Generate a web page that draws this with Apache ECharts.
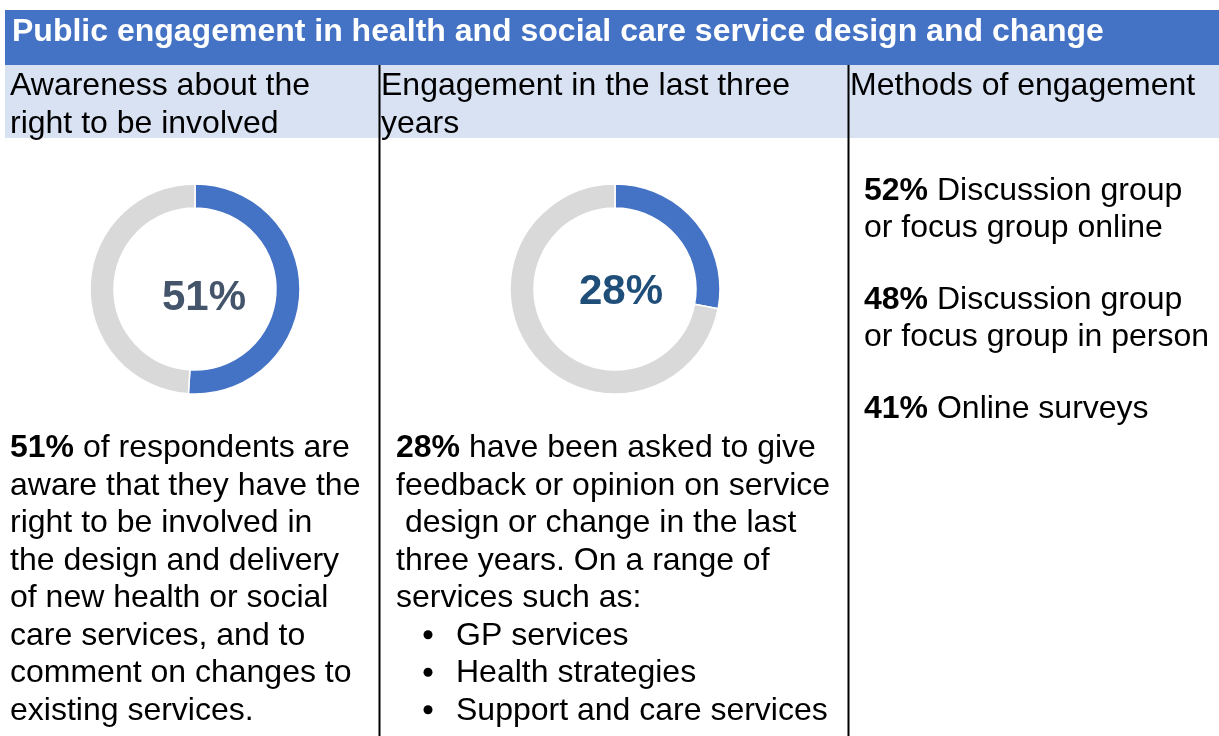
<!DOCTYPE html>
<html>
<head>
<meta charset="utf-8">
<script src="https://cdn.jsdelivr.net/npm/echarts@6/dist/echarts.min.js"></script>
<style>
html,body{margin:0;padding:0;background:#fff;}
#main{width:1219px;height:736px;}
</style>
</head>
<body>
<div id="main"></div>
<script>
// ---- Data ----
const titleText = 'Public engagement in health and social care service design and change';
const columnHeaders = ['Awareness about the\nright to be involved', 'Engagement in the last three\nyears', 'Methods of engagement'];
const awarenessValue = 51;
const engagementValue = 28;
const awarenessBody = ['of respondents are', 'aware that they have the', 'right to be involved in', 'the design and delivery', 'of new health or social', 'care services, and to', 'comment on changes to', 'existing services.'];
const engagementBody = ['have been asked to give', 'feedback or opinion on service', ' design or change in the last', 'three years. On a range of', 'services such as:'];
const serviceExamples = ['GP services', 'Health strategies', 'Support and care services'];
const methodValues = [52, 48, 41];
const methodLabels = [['Discussion group', 'or focus group online'], ['Discussion group', 'or focus group in person'], ['Online surveys']];

// ---- Styles ----
const FONT = '"Liberation Sans", Arial, sans-serif';
const LH = 37.5;
const BLUE = '#4472C4';
const GREY = '#D9D9D9';
const BODY_TOP = 429.5;

const chart = echarts.init(document.getElementById('main'), null, {renderer: 'canvas'});

function bodyText(x, y, lines, boldValue) {
  let txt = lines.map((l, i) => i === 0 && boldValue != null ? '{b|' + boldValue + '%}' + ' ' + l : l).join('\n');
  return {
    type: 'text', x: x, y: y, z: 10,
    style: {
      text: txt, fill: '#000', fontSize: 32, fontFamily: FONT, lineHeight: LH,
      align: 'left', verticalAlign: 'top',
      rich: { b: { fontWeight: 'bold', fontSize: 32, fontFamily: FONT, lineHeight: LH, fill: '#000' } }
    }
  };
}

const methodTops = [172, 281, 390.5];
const graphics = [
  { type: 'rect', shape: { x: 5, y: 10, width: 1214, height: 55 }, style: { fill: BLUE }, z: 1 },
  { type: 'rect', shape: { x: 5, y: 65, width: 1214, height: 73 }, style: { fill: '#D9E2F3' }, z: 1 },
  { type: 'text', x: 12, y: 32, z: 10, style: { text: titleText, fill: '#fff', fontSize: 32, fontWeight: 'bold', fontFamily: FONT, align: 'left', verticalAlign: 'middle' } },
  { type: 'text', x: 10, y: 67.5, z: 10, style: { text: columnHeaders[0], fill: '#000', fontSize: 32, fontFamily: FONT, lineHeight: LH, align: 'left', verticalAlign: 'top' } },
  { type: 'text', x: 381, y: 67.5, z: 10, style: { text: columnHeaders[1], fill: '#000', fontSize: 32, fontFamily: FONT, lineHeight: LH, align: 'left', verticalAlign: 'top' } },
  { type: 'text', x: 850, y: 67.5, z: 10, style: { text: columnHeaders[2], fill: '#000', fontSize: 32, fontFamily: FONT, lineHeight: LH, align: 'left', verticalAlign: 'top' } },
  { type: 'line', shape: { x1: 379.5, y1: 65, x2: 379.5, y2: 736 }, style: { stroke: '#000', lineWidth: 2 }, z: 5 },
  { type: 'line', shape: { x1: 848.5, y1: 65, x2: 848.5, y2: 736 }, style: { stroke: '#000', lineWidth: 2 }, z: 5 },
  // donut centre values
  { type: 'text', x: 204, y: 298, z: 10, style: { text: awarenessValue + '%', fill: '#44546A', fontSize: 42, fontWeight: 'bold', fontFamily: FONT, align: 'center', verticalAlign: 'middle' } },
  { type: 'text', x: 621, y: 292, z: 10, style: { text: engagementValue + '%', fill: '#1F4E79', fontSize: 42, fontWeight: 'bold', fontFamily: FONT, align: 'center', verticalAlign: 'middle' } },
  bodyText(10, BODY_TOP, awarenessBody, awarenessValue),
  bodyText(396, BODY_TOP, engagementBody, engagementValue),
  { type: 'text', x: 456, y: BODY_TOP + 5 * LH, z: 10, style: { text: serviceExamples.join('\n'), fill: '#000', fontSize: 32, fontFamily: FONT, lineHeight: LH, align: 'left', verticalAlign: 'top' } }
];
serviceExamples.forEach((s, i) => graphics.push({
  type: 'circle', z: 10,
  shape: { cx: 428, cy: BODY_TOP + (5 + i) * LH + LH / 2 - 1, r: 4.5 },
  style: { fill: '#000' }
}));
methodValues.forEach((v, i) => graphics.push(bodyText(864, methodTops[i], methodLabels[i], v)));

function donut(center, value) {
  return {
    type: 'pie', center: center, radius: [81, 105], startAngle: 90, clockwise: true,
    silent: true, animation: false, label: { show: false }, labelLine: { show: false },
    itemStyle: { borderColor: '#fff', borderWidth: 1.5 },
    data: [
      { value: value, itemStyle: { color: BLUE } },
      { value: 100 - value, itemStyle: { color: GREY } }
    ]
  };
}

chart.setOption({
  animation: false,
  backgroundColor: '#fff',
  series: [donut([195, 289], awarenessValue), donut([615, 289], engagementValue)],
  graphic: graphics
});
</script>
</body>
</html>
